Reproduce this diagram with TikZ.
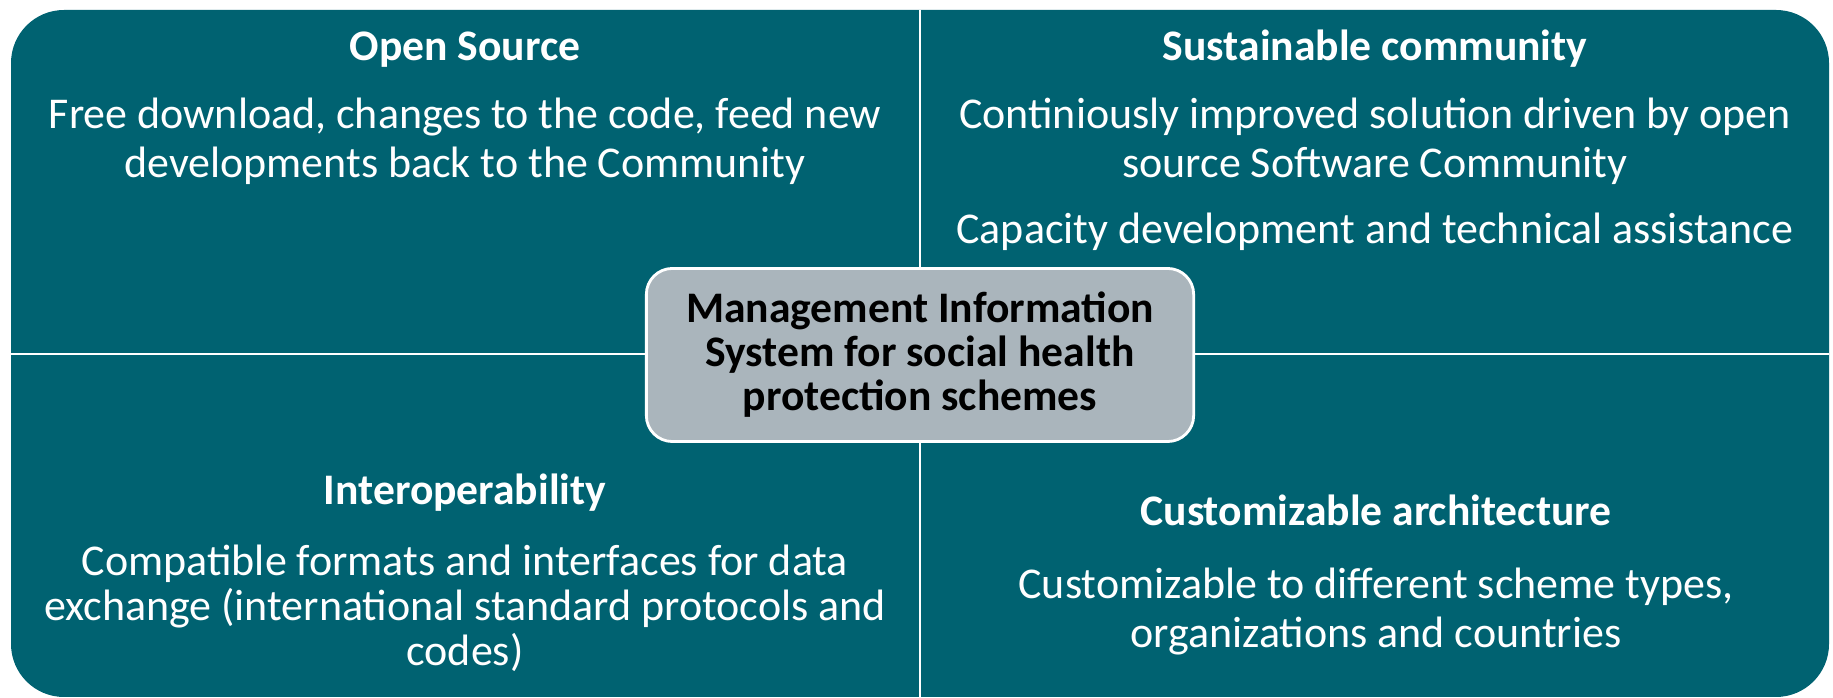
\documentclass[tikz,border=0pt]{standalone}
\usepackage{fontspec}
\setmainfont{Carlito}
\definecolor{tealbg}{RGB}{0,98,113}
\definecolor{hubgray}{RGB}{170,181,188}

\begin{document}
\begin{tikzpicture}[x=0.01cm, y=-0.01cm,
    head/.style={font=\fontsize{12.4}{14}\selectfont\bfseries, text=white, inner sep=0, anchor=base},
    body/.style={font=\fontsize{12.5}{14}\selectfont, text=white, inner sep=0, align=center, anchor=base},
    hub/.style={draw=white, line width=0.8pt, fill=hubgray, rounded corners=0.26cm,
        minimum width=5.47cm, minimum height=1.73cm, inner sep=0, align=center,
        font=\fontsize{12.4}{12.5}\selectfont\bfseries}]
		%%%%% START %%%%%
		\useasboundingbox (0,0) rectangle (1833,698);
		
		\fill[tealbg, rounded corners=0.53cm] (11,10) rectangle (1829,697);
		\draw[white, line width=0.6pt] (920,10) -- (920,697);
		\draw[white, line width=0.6pt] (11,354) -- (1829,354);
		
		\node[head] (oshead) at (465,61) {Open Source};
		\node[body] (ostext) at (465,178) {Free download, changes to the code, feed new\\developments back to the Community};
		
		\node[head] (schead) at (1375,61) {Sustainable community};
		\node[body] (sctext) at (1375,178) {Continiously improved solution driven by open\\source Software Community};
		\node[body] (sccap) at (1375,244) {Capacity development and technical assistance};
		
		\node[head] (iohead) at (465,505) {Interoperability};
		\node[body, font=\fontsize{12.5}{12.8}\selectfont] (iotext) at (465,666) {Compatible formats and interfaces for data\\exchange (international standard protocols and\\codes)};
		
		\node[head] (cahead) at (1376,526) {Customizable architecture};
		\node[body] (catext) at (1376,648) {Customizable to different scheme types,\\organizations and countries};
		
		\node[hub] (mis) at (920,355) {Management Information\\System for social health\\protection schemes};
		%%%%% END %%%%%
\end{tikzpicture}
\end{document}
